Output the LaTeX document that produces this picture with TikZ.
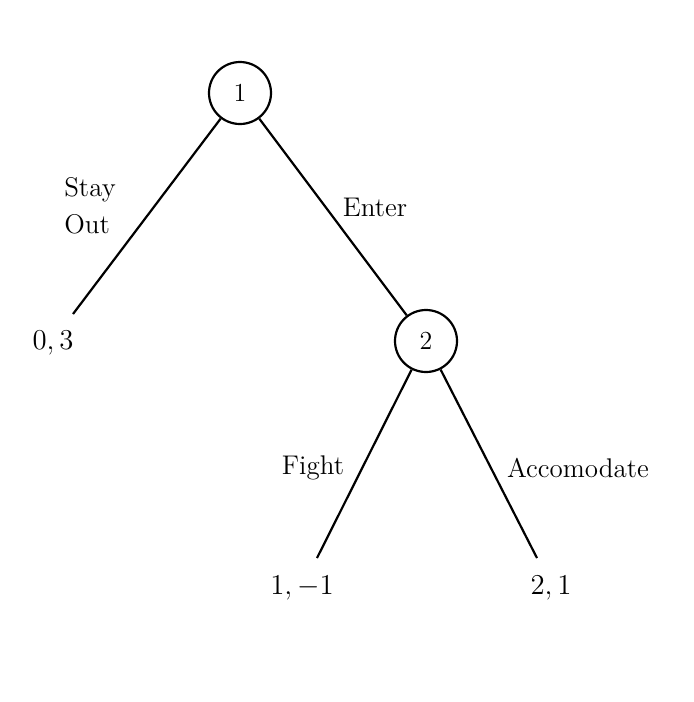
\documentclass[tikz,border=0pt]{standalone}
\usepackage{amsmath}
\usepackage{tikz}
\usetikzlibrary{calc}

\begin{document}
\begin{tikzpicture}[x=0.5pt,y=-0.5pt,
  player/.style={draw,circle,line width=1.1pt,minimum size=31pt,inner sep=0pt,font=\fontsize{13}{15}\selectfont},
  move/.style={line width=1.1pt},
  lbl/.style={font=\fontsize{13.5}{16}\selectfont}]
\useasboundingbox (0,0) rectangle (694,702);

% decision nodes
\node[player] (P1) at (240,93) {1};
\node[player] (P2) at (426,341) {2};

% ends of the moves
\coordinate (leafO) at (73,314);
\coordinate (leafF) at (317,558);
\coordinate (leafA) at (537,558);

\draw[move] (P1) -- (leafO);
\draw[move] (P1) -- (P2);
\draw[move] (P2) -- (leafF);
\draw[move] (P2) -- (leafA);

% names of the moves
\node[lbl,align=left] (stayout) at (90,206) {Stay\\[2.5pt]Out};
\node[lbl] (enter) at (375,207) {Enter};
\node[lbl] (fight) at (313,468) {Fight};
\node[lbl] (accom) at (578,468) {Accomodate};

% payoffs
\node[lbl] (payO) at (53,343) {$0,3$};
\node[lbl] (payF) at (302,588) {$1,-1$};
\node[lbl] (payA) at (551,588) {$2,1$};
\end{tikzpicture}
\end{document}
